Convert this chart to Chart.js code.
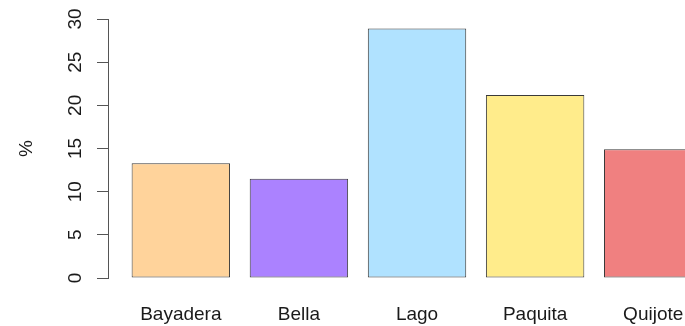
<!DOCTYPE html>
<html>
<head>
<meta charset="utf-8">
<script src="https://cdn.jsdelivr.net/npm/chart.js@4"></script>
<style>
  html, body { margin: 0; padding: 0; background: #fff; overflow: hidden; }
  #wrap { width: 685px; height: 326px; }
</style>
</head>
<body>
<div id="wrap"><canvas id="barChart"></canvas></div>
<script>
// data
const categories = ['Bayadera', 'Bella', 'Lago', 'Paquita', 'Quijote'];
const percents = [13.3, 11.5, 28.9, 21.2, 14.9];
const barColors = ['#FFD39B', '#AB82FF', '#B0E2FF', '#FFEC8B', '#F08080'];
const yTicks = [0, 5, 10, 15, 20, 25, 30];

// barplot layout: bars of width 1 with a gap of 0.2 between them
const barWidth = 1;
const barSpace = 0.2;
const centers = categories.map((c, i) => barSpace + barWidth / 2 + i * (barWidth + barSpace));

const ctx = document.getElementById('barChart');
const chart = new Chart(ctx, {
    type: 'bar',
    data: {
        datasets: [{
            data: categories.map((c, i) => ({ x: centers[i], y: percents[i] })),
            backgroundColor: barColors,
            borderColor: '#3a3a3a',
            borderWidth: 1,
            borderSkipped: false,
            categoryPercentage: 1,
            barPercentage: barWidth / (barWidth + barSpace)
        }]
    },
    options: {
        responsive: true,
        maintainAspectRatio: false,
        animation: false,
        layout: { padding: { top: 19, right: 0, bottom: 0, left: 0 } },
        plugins: {
            legend: { display: false },
            tooltip: { enabled: false }
        },
        scales: {
            x: {
                type: 'linear',
                offset: false,
                min: -0.04,
                max: 5.823,
                grid: { display: false, drawTicks: false },
                border: { display: false },
                afterBuildTicks: scale => {
                    scale.ticks = centers.map(v => ({ value: v }));
                },
                afterFit: scale => {
                    scale.height = 48;
                    scale.paddingLeft = 0;
                    scale.paddingRight = 0;
                },
                ticks: {
                    autoSkip: false,
                    maxRotation: 0,
                    padding: 25,
                    color: '#1a1a1a',
                    font: { family: 'Liberation Sans, Arial, sans-serif', size: 19 },
                    callback: (value, index) => categories[index]
                }
            },
            y: {
                min: 0,
                max: 30,
                afterBuildTicks: scale => {
                    scale.ticks = yTicks.map(v => ({ value: v }));
                },
                afterFit: scale => {
                    scale.width = 108;
                    scale.paddingTop = 0;
                    scale.paddingBottom = 0;
                },
                grid: {
                    drawOnChartArea: false,
                    drawTicks: true,
                    tickLength: 11,
                    color: '#555555',
                    lineWidth: 1
                },
                border: { display: true, color: '#555555', width: 1 },
                ticks: {
                    minRotation: 90,
                    maxRotation: 90,
                    crossAlign: 'center',
                    padding: 11,
                    color: '#1a1a1a',
                    font: { family: 'Liberation Sans, Arial, sans-serif', size: 19 }
                },
                title: {
                    display: true,
                    text: '%',
                    color: '#1a1a1a',
                    padding: { top: 15, bottom: 0 },
                    font: { family: 'Liberation Sans, Arial, sans-serif', size: 19 }
                }
            }
        }
    }
});
</script>
</body>
</html>
